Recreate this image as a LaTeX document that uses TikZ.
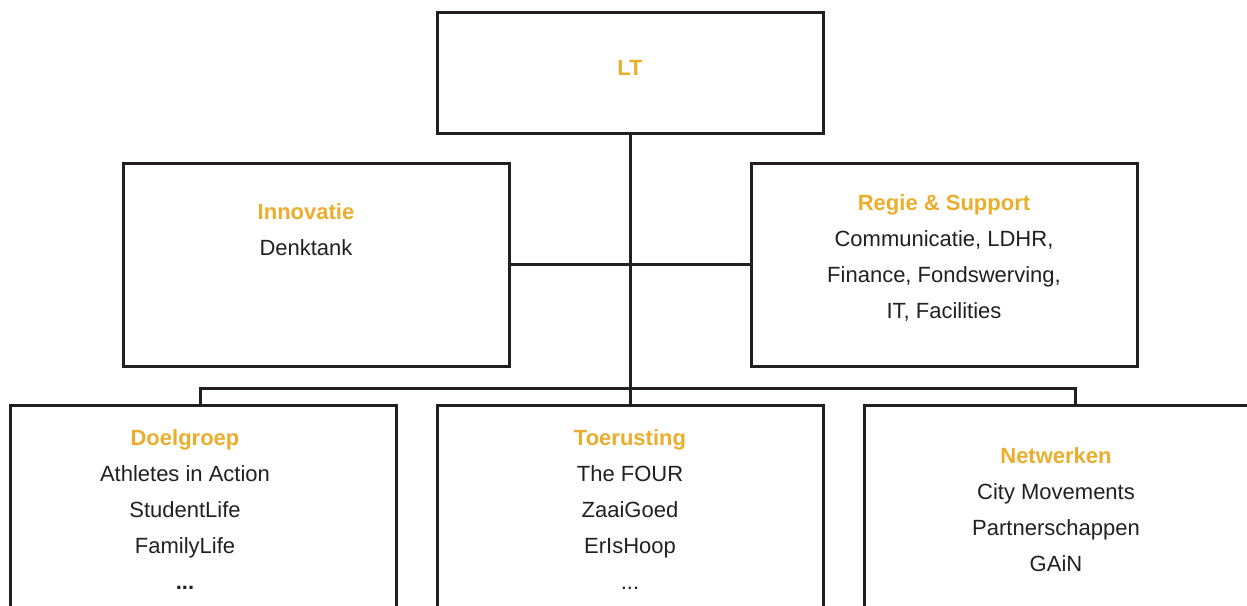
\documentclass[tikz,border=0pt]{standalone}
\usepackage{fontspec}
\setmainfont{Liberation Sans}
\definecolor{goud}{HTML}{EAAE2C}
\definecolor{lijn}{HTML}{231F20}
\tikzset{
  orgbox/.style={draw=lijn, line width=1.5pt, inner sep=0pt, minimum width=193pt},
  orgtekst/.style={align=center, inner sep=0pt, text=lijn, font=\fontsize{11}{18}\selectfont},
  verbinding/.style={draw=lijn, line width=1.5pt}
}
\newcommand{\kop}[1]{\textcolor{goud}{\textbf{#1}}}

\begin{document}
\begin{tikzpicture}[x=0.5pt,y=-0.5pt]
    \useasboundingbox (0,0) rectangle (1247,605);
    \clip (0,0) rectangle (1247,605);

    % vakken
    \node[orgbox, minimum width=193pt, minimum height=60.5pt] (lt) at (630,72.5) {};
    \node[orgbox, minimum height=101.5pt] (innovatie) at (316,264.5) {};
    \node[orgbox, minimum height=101.5pt] (regie) at (944,264.5) {};
    \node[orgbox, minimum height=200pt] (doelgroep) at (203,605) {};
    \node[orgbox, minimum height=200pt] (toerusting) at (630,605) {};
    \node[orgbox, minimum height=200pt] (netwerken) at (1057,605) {};

    % teksten
    \node[orgtekst] (ltT) at (630,68) {\kop{LT}};
    \node[orgtekst] (innovatieT) at (306,229.5) {\kop{Innovatie}\\Denktank};
    \node[orgtekst] (regieT) at (944,258) {\kop{Regie \& Support}\\Communicatie, LDHR,\\Finance, Fondswerving,\\IT, Facilities};
    \node[orgtekst, anchor=north] (doelgroepT) at (185,429) {\kop{Doelgroep}\\Athletes in Action\\StudentLife\\FamilyLife\\\textbf{...}};
    \node[orgtekst, anchor=north] (toerustingT) at (630,429) {\kop{Toerusting}\\The FOUR\\ZaaiGoed\\ErIsHoop\\...};
    \node[orgtekst, anchor=north] (netwerkenT) at (1056,447) {\kop{Netwerken}\\City Movements\\Partnerschappen\\GAiN};

    % lijnen
    \coordinate (links) at (200.5,388.5);
    \coordinate (rechts) at (1075,388.5);
    \draw[verbinding] (lt.south) -- (lt.south |- toerusting.north);
    \draw[verbinding] (innovatie.east) -- (regie.west);
    \draw[verbinding] (links |- doelgroep.north) -- (links) -- (rechts) -- (rechts |- netwerken.north);
\end{tikzpicture}
\end{document}
